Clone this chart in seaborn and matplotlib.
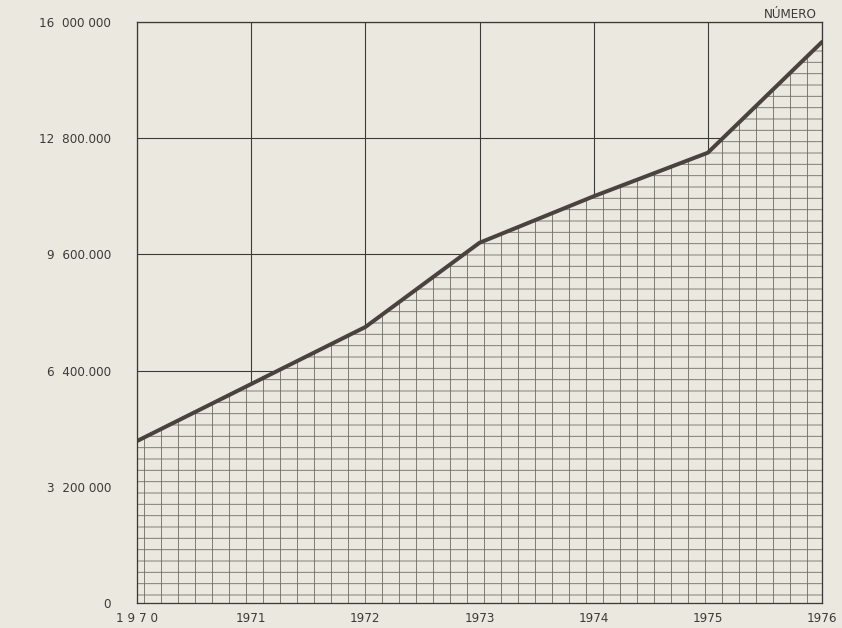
import matplotlib
matplotlib.use("Agg")
import matplotlib.pyplot as plt
import seaborn as sns
import pandas as pd

# ---- data ----
years = [1970, 1971, 1972, 1973, 1974, 1975, 1976]
numero = [4460000, 6030000, 7600000, 9920000, 11200000, 12400000, 15450000]
x_labels = ["1 9 7 0", "1971", "1972", "1973", "1974", "1975", "1976"]
y_ticks = [0, 3200000, 6400000, 9600000, 12800000, 16000000]
y_labels = ["0", "3  200 000", "6  400.000", "9  600.000", "12  800.000", "16  000 000"]
unit_label = "NÚMERO"

DPI = 204
W, H = 842, 628


def pt(px):
    return px * 72.0 / DPI


BG = "#ebe9df"
INK = "#3c3a36"
HATCH = "#77746c"

sns.set_theme(style="white")
plt.rcParams["font.family"] = ["DejaVu Sans"]
plt.rcParams["hatch.linewidth"] = pt(0.9)
plt.rcParams["hatch.color"] = HATCH

df = pd.DataFrame({"year": years, "numero": numero})

fig = plt.figure(figsize=(W / DPI, H / DPI), dpi=DPI, facecolor=BG)
ax = fig.add_axes([137 / W, 25 / H, (822 - 137) / W, (603 - 22) / H])
ax.set_facecolor(BG)

ax.set_xlim(1970, 1976)
ax.set_ylim(0, 16000000)
ax.set_xticks(years)
ax.set_yticks(y_ticks)
ax.grid(True, color=INK, linewidth=pt(1.1), zorder=1)
ax.set_axisbelow(True)

# hatched area
ax.fill_between(df["year"], df["numero"], 0, facecolor=BG, edgecolor=HATCH,
                hatch="||---", linewidth=0, zorder=2)

# line
sns.lineplot(data=df, x="year", y="numero", ax=ax, color="#4a433d",
             linewidth=pt(4.0), zorder=3, legend=False)

for s in ax.spines.values():
    s.set_color(INK)
    s.set_linewidth(pt(1.3))
    s.set_zorder(4)

ax.set_xticklabels(x_labels)
ax.set_yticklabels(y_labels)
ax.tick_params(axis="both", length=0, colors=INK, labelsize=pt(12))
ax.tick_params(axis="y", pad=pt(26))
ax.tick_params(axis="x", pad=pt(9))
ax.set_xlabel("")
ax.set_ylabel("")

fig.text(790 / W, 1 - 14 / H, unit_label, ha="center", va="center",
         fontsize=pt(12), color=INK)

fig.savefig("out.png", dpi=DPI, facecolor=BG)
